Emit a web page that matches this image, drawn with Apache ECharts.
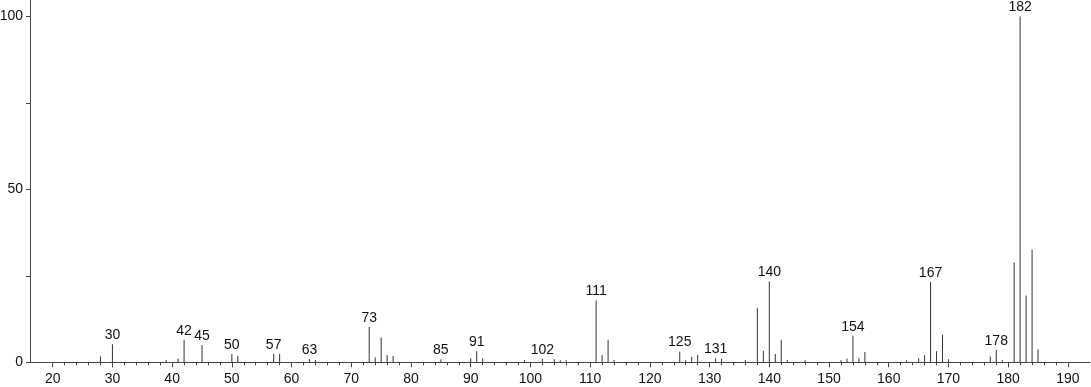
<!DOCTYPE html>
<html>
<head>
<meta charset="utf-8">
<script src="https://cdn.jsdelivr.net/npm/echarts@6/dist/echarts.min.js"></script>
<style>
html,body{margin:0;padding:0;background:#fff;}
#chart{width:1091px;height:387px;}
</style>
</head>
<body>
<div id="chart"></div>
<script>
// m/z values and relative intensities
const masses = [28,30,39,41,42,45,50,51,57,58,63,64,73,74,75,76,77,85,90,91,92,99,102,104,105,106,111,112,113,114,125,126,127,128,131,132,136,138,139,140,141,142,143,146,152,153,154,155,156,163,165,166,167,168,169,170,177,178,179,181,182,183,184,185];
const intensities = [1.7,5.2,0.7,1.0,6.5,5.0,2.4,1.9,2.5,2.5,0.9,0.7,10.3,1.4,7.2,2.1,1.8,0.9,1.2,3.2,1.2,0.7,1.0,0.9,0.6,0.6,17.9,2.1,6.5,0.7,3.1,0.6,1.6,2.1,1.2,1.0,0.7,15.7,3.3,23.4,2.4,6.5,0.7,0.6,0.6,1.0,7.7,1.2,3.0,0.6,1.2,2.1,23.2,3.2,8.0,0.9,1.7,3.6,0.7,28.9,100,19.3,32.6,3.8];
const labeledMasses = [30,42,45,50,57,63,73,85,91,102,111,125,131,140,154,167,178,182];
const xMajorTicks = [20,30,40,50,60,70,80,90,100,110,120,130,140,150,160,170,180,190];
const xMinorTicks = [22,24,26,28,32,34,36,38,42,44,46,48,52,54,56,58,62,64,66,68,72,74,76,78,82,84,86,88,92,94,96,98,102,104,106,108,112,114,116,118,122,124,126,128,132,134,136,138,142,144,146,148,152,154,156,158,162,164,166,168,172,174,176,178,182,184,186,188];
const yTicks = [0,25,50,75,100];
const yLabels = [0,50,100];

const data = masses.map((m, i) => ({
  value: [m, intensities[i]],
  label: { show: labeledMasses.indexOf(m) >= 0 }
}));

const chart = echarts.init(document.getElementById('chart'), null, {renderer: 'canvas'});
const font = 'Liberation Sans, Arial, sans-serif';
const xMin = 16.2, xMax = 193.7;
chart.setOption({
  animation: false,
  backgroundColor: '#fff',
  grid: { left: 30, right: 1, top: 0, bottom: 24.7, containLabel: false, outerBoundsMode: 'none' },
  xAxis: [{
    type: 'value', min: xMin, max: xMax,
    axisLine: { show: true, lineStyle: { color: '#444', width: 1 } },
    axisTick: { show: true, customValues: xMajorTicks, length: 5, lineStyle: { color: '#444' } },
    axisLabel: { show: true, customValues: xMajorTicks, margin: 10, fontSize: 14, color: '#111', fontFamily: font },
    splitLine: { show: false }
  }, {
    type: 'value', min: xMin, max: xMax, position: 'bottom',
    axisLine: { show: false },
    axisTick: { show: true, customValues: xMinorTicks, length: 3, lineStyle: { color: '#444' } },
    axisLabel: { show: false, customValues: xMinorTicks },
    splitLine: { show: false }
  }],
  yAxis: {
    type: 'value', min: 0, max: 104.8,
    axisLine: { show: true, lineStyle: { color: '#444', width: 1 } },
    axisTick: { show: true, customValues: yTicks, length: 4, lineStyle: { color: '#444' } },
    axisLabel: { show: true, customValues: yLabels, margin: 7, fontSize: 14, color: '#111', fontFamily: font },
    splitLine: { show: false }
  },
  series: [{
    type: 'bar',
    xAxisIndex: 0,
    barWidth: 1,
    itemStyle: { color: '#333' },
    label: { position: 'top', distance: 2, fontSize: 14, color: '#111', fontFamily: font, formatter: p => String(p.value[0]) },
    data: data
  }]
});
</script>
</body>
</html>
